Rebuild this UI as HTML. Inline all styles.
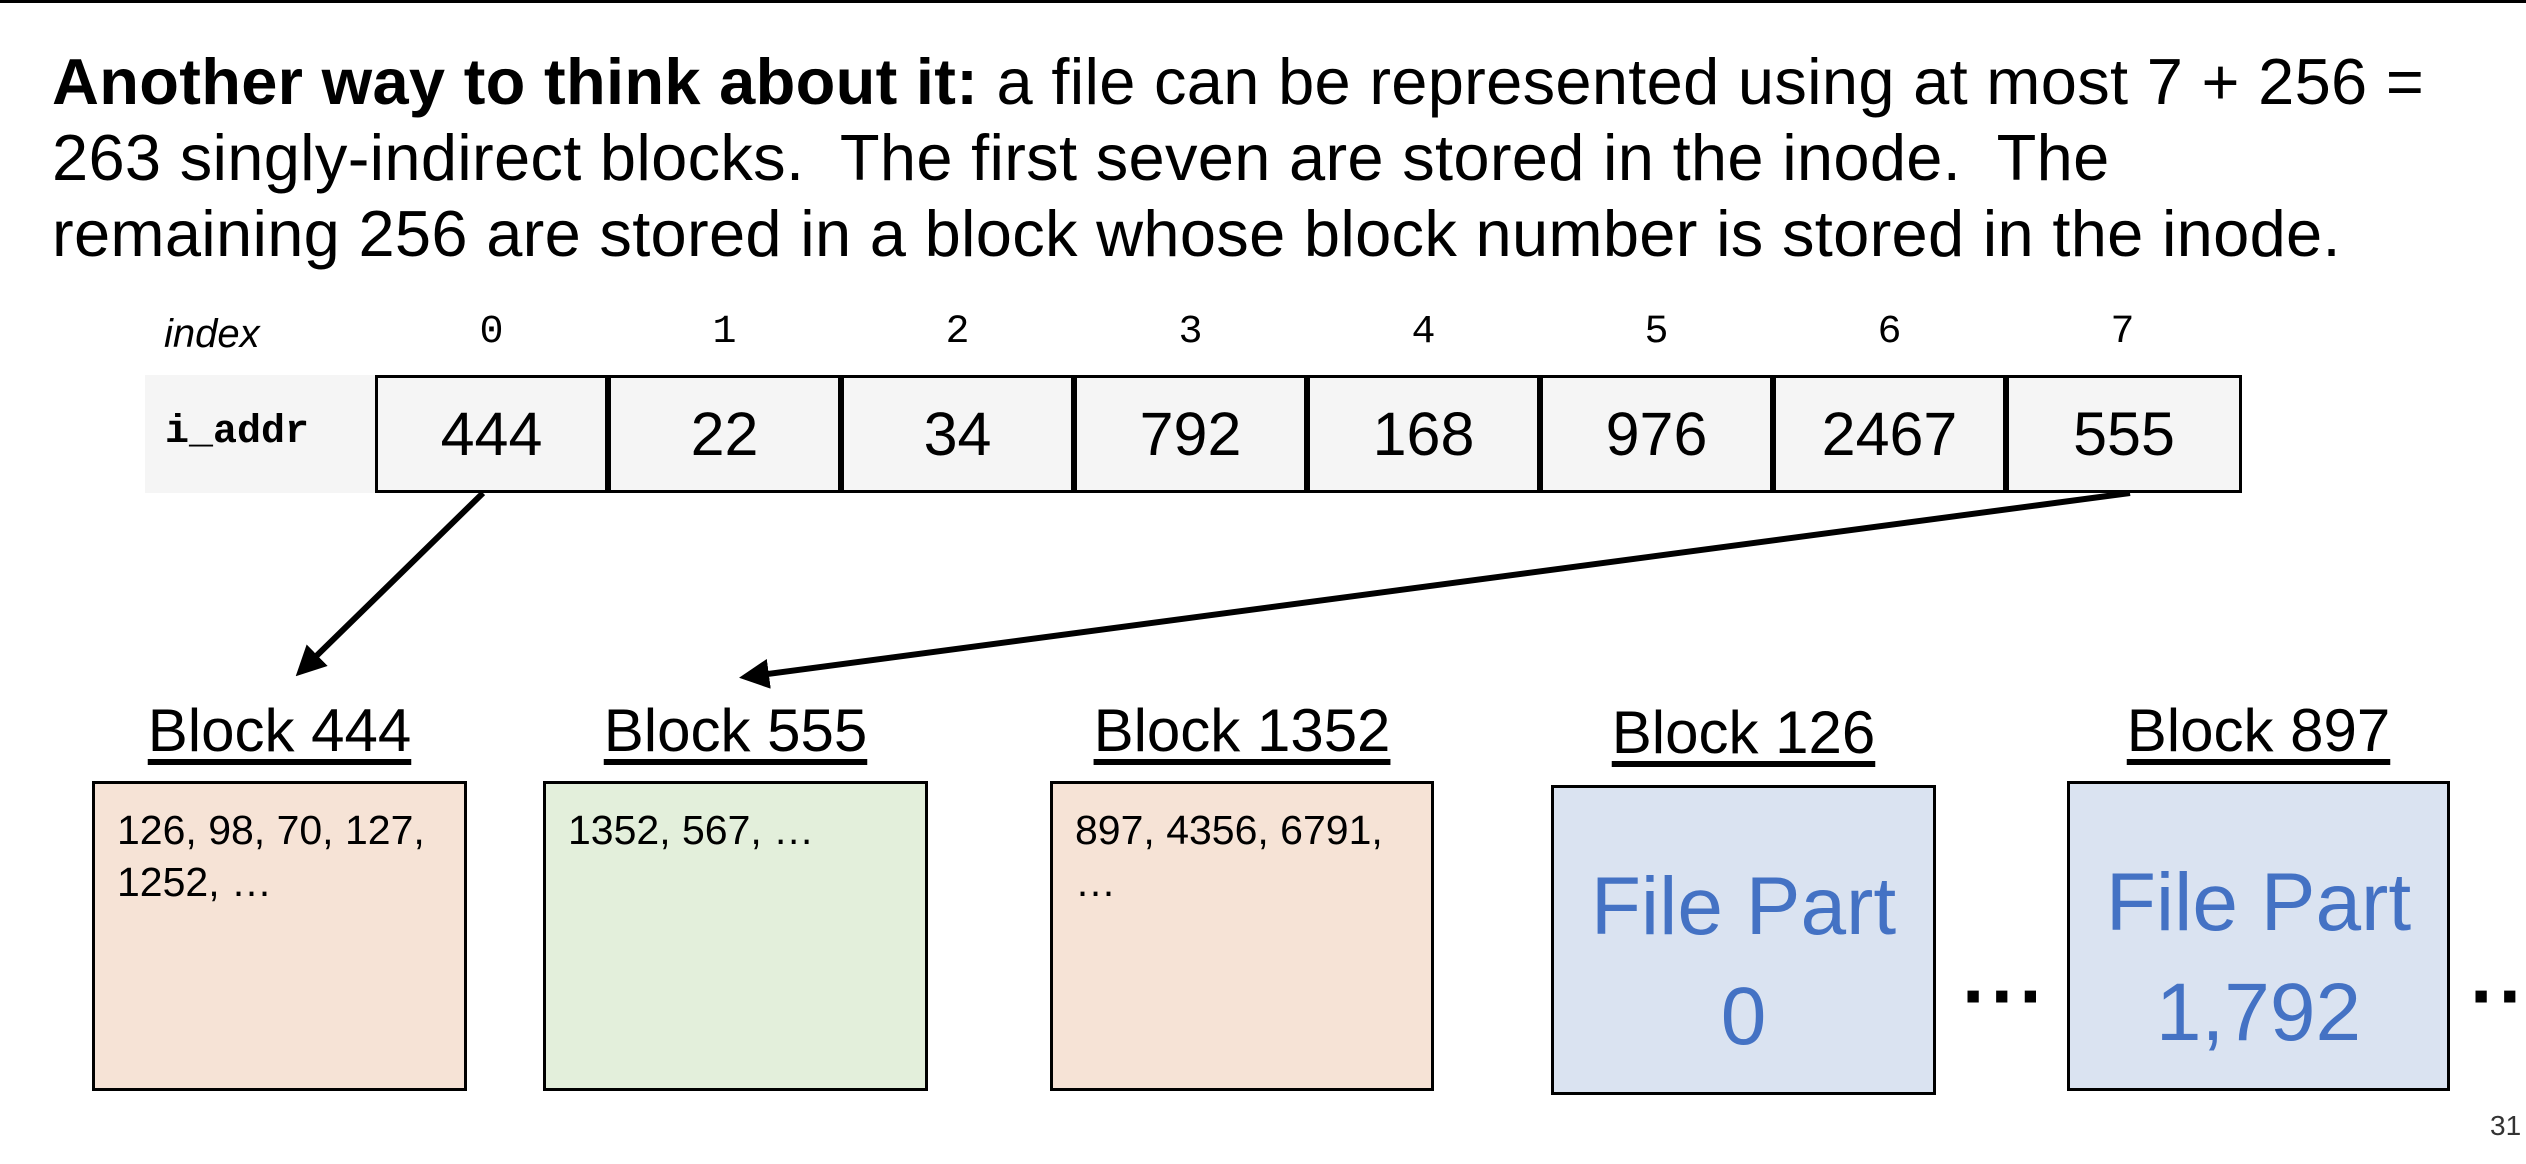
<!DOCTYPE html>
<html><head><meta charset="utf-8"><style>
*{margin:0;padding:0;box-sizing:border-box}
body{width:2526px;height:1164px;background:#fff;position:relative;overflow:hidden;font-family:"Liberation Sans",sans-serif;color:#000}
.topline{position:absolute;left:0;top:0;width:2526px;height:3px;background:#000}
.title{position:absolute;left:52px;top:44px;font-size:65px;line-height:76px;white-space:nowrap;letter-spacing:0.3px}
.idx{position:absolute;top:310px;font-family:"Liberation Mono",monospace;font-size:40px;width:233px;text-align:center}
.lab{position:absolute;left:145px;top:375px;width:230px;height:118px;background:#f5f5f5}
.cell{position:absolute;top:375px;height:118px;width:233px;border:3px solid #000;background:#f5f5f5;font-size:61px;text-align:center;line-height:112px}
.bt{position:absolute;top:696px;font-size:60px;text-decoration:underline;text-underline-offset:8px;text-align:center;white-space:nowrap}
.box{position:absolute;top:781px;height:310px;border:3px solid #000;font-size:41px;line-height:52px;padding:20px 0 0 22px;white-space:nowrap}
.fp{color:#4472c4;font-size:82px;line-height:110px;text-align:center;padding:64px 0 0 0}
.dots{position:absolute;font-size:80px;font-weight:bold;top:950px;letter-spacing:2px}
</style></head><body>
<div class="topline"></div>
<div class="title"><b>Another way to think about it:</b> a file can be represented using at most 7 + 256 =<br>263 singly-indirect blocks.&nbsp; The first seven are stored in the inode.&nbsp; The<br>remaining 256 are stored in a block whose block number is stored in the inode.</div>
<div style="position:absolute;left:164px;top:312px;font-size:40px;font-style:italic">index</div>
<div class="idx" style="left:375px">0</div><div class="idx" style="left:608px">1</div><div class="idx" style="left:841px">2</div><div class="idx" style="left:1074px">3</div><div class="idx" style="left:1307px">4</div><div class="idx" style="left:1540px">5</div><div class="idx" style="left:1773px">6</div><div class="idx" style="left:2006px">7</div>
<div class="lab"></div>
<div style="position:absolute;left:165px;top:410px;font-family:'Liberation Mono',monospace;font-weight:bold;font-size:40px">i_addr</div>
<div class="cell" style="left:375px">444</div><div class="cell" style="left:608px">22</div><div class="cell" style="left:841px">34</div><div class="cell" style="left:1074px">792</div><div class="cell" style="left:1307px">168</div><div class="cell" style="left:1540px">976</div><div class="cell" style="left:1773px">2467</div><div class="cell" style="left:2006px;width:236px">555</div>
<svg style="position:absolute;left:0;top:0" width="2526" height="1164">
<defs><marker id="a" markerWidth="5" markerHeight="5" refX="4" refY="2.5" orient="auto" markerUnits="strokeWidth"><path d="M0,0 L5,2.5 L0,5 z" fill="#000"/></marker></defs>
<line x1="483" y1="493" x2="300" y2="672" stroke="#000" stroke-width="6" marker-end="url(#a)"/>
<line x1="2130" y1="493" x2="745" y2="677" stroke="#000" stroke-width="6" marker-end="url(#a)"/>
</svg>
<div class="bt" style="left:92px;width:375px">Block 444</div>
<div class="bt" style="left:543px;width:385px">Block 555</div>
<div class="bt" style="left:1050px;width:384px">Block 1352</div>
<div class="bt" style="left:1551px;width:385px;top:698px">Block 126</div>
<div class="bt" style="left:2067px;width:383px">Block 897</div>
<div class="box" style="left:92px;width:375px;background:#f6e3d6">126, 98, 70, 127,<br>1252, …</div>
<div class="box" style="left:543px;width:385px;background:#e3efdb">1352, 567, …</div>
<div class="box" style="left:1050px;width:384px;background:#f6e3d6">897, 4356, 6791,<br>…</div>
<div class="box fp" style="left:1551px;width:385px;top:785px;background:#dae3f1;padding-left:0">File Part<br>0</div>
<div class="box fp" style="left:2067px;width:383px;background:#dae3f1;padding-left:0">File Part<br>1,792</div>
<div class="dots" style="left:1962px">···</div>
<div class="dots" style="left:2470px">···</div>
<div style="position:absolute;left:2490px;top:1110px;font-size:28px;color:#333">31</div>
</body></html>
